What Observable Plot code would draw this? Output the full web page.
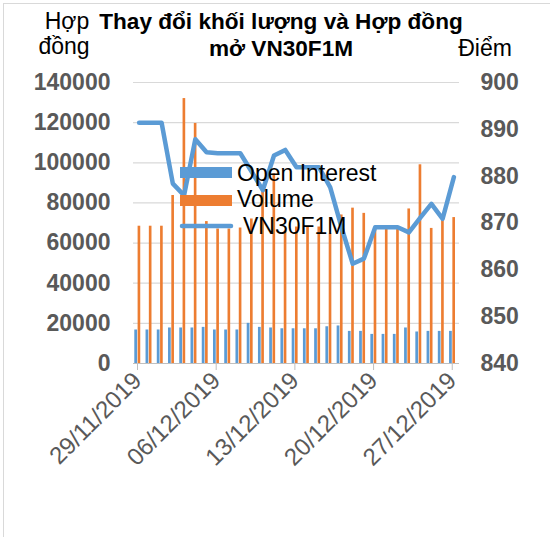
<!DOCTYPE html>
<html><head><meta charset="utf-8">
<script src="https://cdn.jsdelivr.net/npm/d3@7"></script>
<script src="https://cdn.jsdelivr.net/npm/@observablehq/plot@0.6"></script>
<style>
body{margin:0;background:#fff;}
#wrap{position:relative;width:550px;height:537px;overflow:hidden;font-family:"Liberation Sans",Arial,sans-serif;}
#frame{position:absolute;left:3px;top:3px;width:600px;height:600px;border:1px solid #d9d9d9;box-sizing:border-box;}
#chart{position:absolute;left:0;top:0;}
</style></head><body><div id="wrap"><div id="frame"></div><div id="chart"></div></div>
<script>
const dates = ["2019-11-29","2019-11-30","2019-12-01","2019-12-02","2019-12-03","2019-12-04","2019-12-05",
  "2019-12-06","2019-12-07","2019-12-08","2019-12-09","2019-12-10","2019-12-11","2019-12-12",
  "2019-12-13","2019-12-14","2019-12-15","2019-12-16","2019-12-17","2019-12-18","2019-12-19",
  "2019-12-20","2019-12-21","2019-12-22","2019-12-23","2019-12-24","2019-12-25","2019-12-26","2019-12-27"];
const openInterest = [16700,16700,16700,17700,17700,17700,18000,
  16700,16700,16700,20000,18000,17700,17300,
  17300,17300,17300,18300,18700,16000,16000,
  14500,14500,14500,17700,15700,16000,16000,16000];
const volume = [68400,68400,68400,83700,132000,119600,70700,
  67000,67000,67500,72000,87000,94500,66000,
  68000,68000,68000,64600,74000,77400,74800,
  67500,67500,67500,77000,99000,67300,72900,72700];
const vn30 = [891.4,891.4,891.4,878.4,875.9,887.9,885.1,
  884.9,884.9,884.9,881.0,877.0,884.4,885.6,
  881.9,881.9,881.9,877.6,869.1,861.3,862.4,
  869.1,869.1,869.1,868.0,871.1,874.1,870.9,879.8];
const xTickDates = ["2019-11-29","2019-12-06","2019-12-13","2019-12-20","2019-12-27"];
const leftTicks = [0,20000,40000,60000,80000,100000,120000,140000];
const rightTicks = [840,850,860,870,880,890,900];
const seriesNames = ["Open Interest","Volume","VN30F1M"];
const colors = ["#5b9bd5","#ed7d31","#5b9bd5"];
const titleLines = ["Thay đổi khối lượng và Hợp đồng","mở VN30F1M"];
const leftLabel = ["Hợp","đồng"];
const rightLabel = "Điểm";

const LMIN = 0, LMAX = 140000, RMIN = 840, RMAX = 900;
const toY = v => (v - RMIN) / (RMAX - RMIN) * (LMAX - LMIN) + LMIN;
const fromY = y => RMIN + (y - LMIN) / (LMAX - LMIN) * (RMAX - RMIN);

const parse = d3.utcParse("%Y-%m-%d");
const data = dates.map((d, i) => {
  const t = parse(d);
  return {date: t, next: d3.utcDay.offset(t, 1), mid: d3.utcHour.offset(t, 12),
          oi: openInterest[i], vol: volume[i], vn: vn30[i]};
});
const xStart = parse(dates[0]);
const xEnd = d3.utcDay.offset(parse(dates[dates.length - 1]), 1);
const FONT = '"Liberation Sans", Arial, sans-serif';

const chart = Plot.plot({
  width: 550, height: 537,
  marginLeft: 133, marginRight: 91, marginTop: 82, marginBottom: 174,
  style: {fontFamily: FONT, background: "transparent", overflow: "visible"},
  x: {type: "utc", domain: [xStart, xEnd]},
  y: {domain: [LMIN, LMAX]},
  marks: [
    Plot.gridY(leftTicks, {stroke: "#d9d9d9", strokeOpacity: 1, strokeWidth: 1.2}),
    Plot.rectY(data, {x1: "date", x2: "next", y: "oi", fill: colors[0], insetLeft: 1.3, insetRight: 7.2}),
    Plot.rectY(data, {x1: "date", x2: "next", y: "vol", fill: colors[1], insetLeft: 4.6, insetRight: 4}),
    Plot.ruleY([0], {stroke: "#bfbfbf", strokeWidth: 1.2}),
    Plot.lineY(data, {x: "mid", y: d => toY(d.vn), stroke: colors[2], strokeWidth: 4.5,
      strokeLinejoin: "round", strokeLinecap: "round"}),
    Plot.axisY(leftTicks, {anchor: "left", tickSize: 0, tickPadding: 23, fontSize: 23,
      fontWeight: "bold", fill: "#595959", tickFormat: d => String(d), label: null}),
    Plot.axisY(rightTicks.map(toY), {anchor: "right", tickSize: 0, tickPadding: 21, fontSize: 23,
      fontWeight: "bold", fill: "#595959", tickFormat: d => String(Math.round(fromY(d))), label: null}),
    Plot.axisX(xTickDates.map(parse), {anchor: "bottom", tickSize: 7, stroke: "#bfbfbf",
      fill: "#595959", tickRotate: -45, fontSize: 24, tickPadding: 6, dx: 4,
      tickFormat: d3.utcFormat("%d/%m/%Y"), label: null})
  ]
});
document.getElementById("chart").appendChild(chart);

const svg = d3.select(chart);
const t = svg.append("g").attr("font-family", FONT).attr("text-anchor", "middle");
t.append("text").attr("x", 281).attr("y", 29)
  .attr("font-size", 22.6).attr("font-weight", "bold").attr("fill", "#000").text(titleLines[0]);
t.append("text").attr("x", 281).attr("y", 56)
  .attr("font-size", 22.6).attr("font-weight", "bold").attr("fill", "#000").text(titleLines[1]);
t.append("text").attr("x", 67).attr("y", 29)
  .attr("font-size", 23).attr("fill", "#000").text(leftLabel[0]);
t.append("text").attr("x", 64).attr("y", 54)
  .attr("font-size", 23).attr("fill", "#000").text(leftLabel[1]);
t.append("text").attr("x", 485).attr("y", 56)
  .attr("font-size", 23).attr("fill", "#000").text(rightLabel);

// legend
const lg = svg.append("g").attr("font-family", FONT).attr("font-size", 23)
  .attr("fill", "#000").attr("text-anchor", "start");
lg.append("rect").attr("x", 180).attr("y", 167).attr("width", 52).attr("height", 11).attr("fill", colors[0]);
lg.append("text").attr("x", 237).attr("y", 181).text(seriesNames[0]);
lg.append("rect").attr("x", 180).attr("y", 195).attr("width", 52).attr("height", 11).attr("fill", colors[1]);
lg.append("text").attr("x", 237).attr("y", 207).text(seriesNames[1]);
lg.append("line").attr("x1", 182).attr("x2", 231).attr("y1", 226).attr("y2", 226)
  .attr("stroke", colors[2]).attr("stroke-width", 4.5).attr("stroke-linecap", "round");
lg.append("text").attr("x", 243).attr("y", 234).text(seriesNames[2]);
</script></body></html>
